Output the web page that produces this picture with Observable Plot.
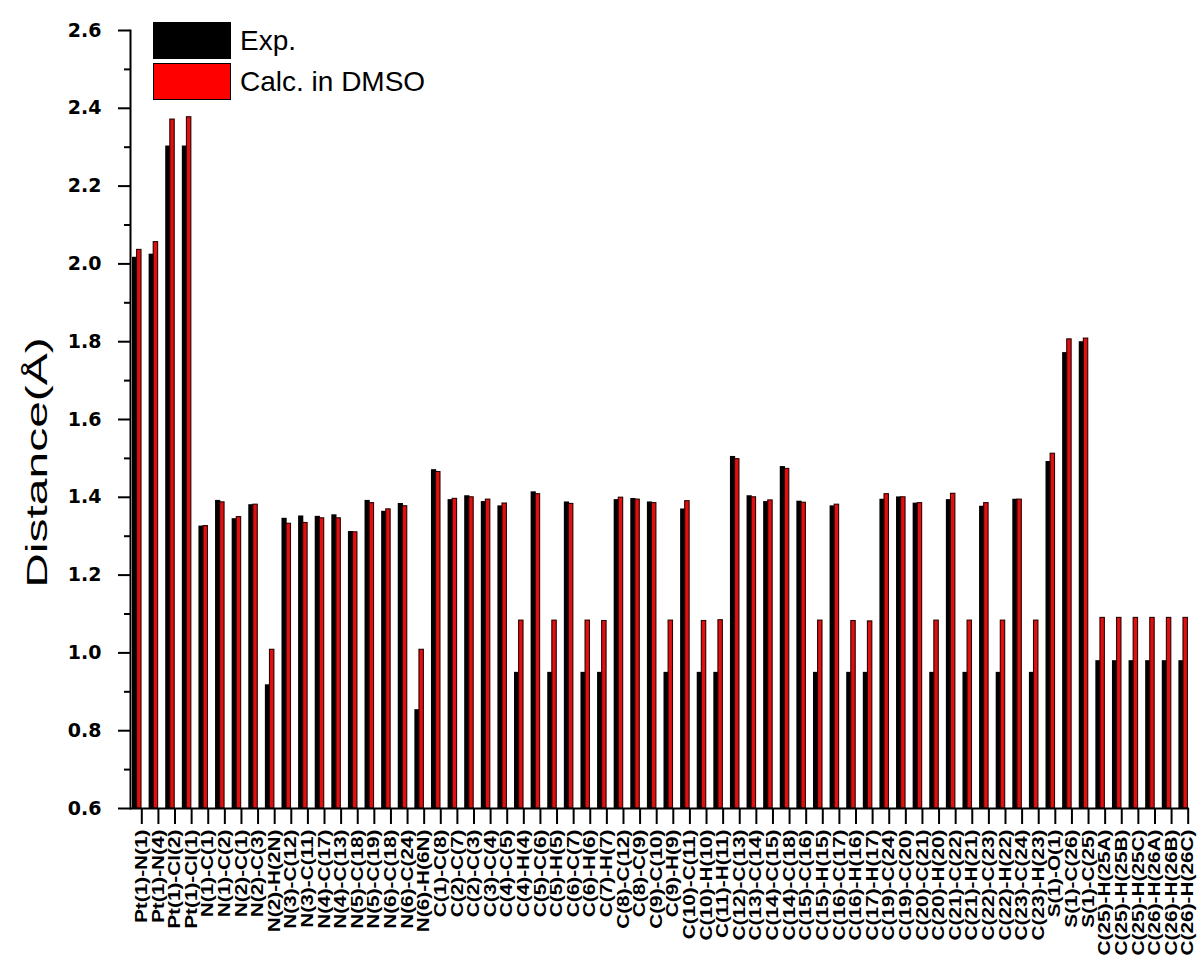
<!DOCTYPE html>
<html>
<head>
<meta charset="utf-8">
<script src="https://cdn.jsdelivr.net/npm/d3@7"></script>
<script src="https://cdn.jsdelivr.net/npm/@observablehq/plot@0.6"></script>
<style>
  body { margin: 0; background: #fff; }
  #chart { position: relative; width: 1198px; height: 956px; }
  .legend { position: absolute; left: 153px; top: 20px; font-family: "Liberation Sans", Arial, sans-serif; font-size: 28px; color: #000; }
  .legend .row { display: flex; align-items: center; height: 41px; }
  .legend .swatch { width: 78px; height: 37px; box-sizing: border-box; margin-right: 9px; }
</style>
</head>
<body>
<div id="chart"></div>
<script>
// Bond lengths of the Pt complex: X-ray values vs. DFT values computed in DMSO
const bonds = [
  "Pt(1)-N(1)", "Pt(1)-N(4)", "Pt(1)-Cl(2)", "Pt(1)-Cl(1)",
  "N(1)-C(1)", "N(1)-C(2)", "N(2)-C(1)", "N(2)-C(3)", "N(2)-H(2N)",
  "N(3)-C(12)", "N(3)-C(11)", "N(4)-C(17)", "N(4)-C(13)", "N(5)-C(18)",
  "N(5)-C(19)", "N(6)-C(18)", "N(6)-C(24)", "N(6)-H(6N)",
  "C(1)-C(8)", "C(2)-C(7)", "C(2)-C(3)", "C(3)-C(4)", "C(4)-C(5)",
  "C(4)-H(4)", "C(5)-C(6)", "C(5)-H(5)", "C(6)-C(7)", "C(6)-H(6)",
  "C(7)-H(7)", "C(8)-C(12)", "C(8)-C(9)", "C(9)-C(10)", "C(9)-H(9)",
  "C(10)-C(11)", "C(10)-H(10)", "C(11)-H(11)", "C(12)-C(13)", "C(13)-C(14)",
  "C(14)-C(15)", "C(14)-C(18)", "C(15)-C(16)", "C(15)-H(15)", "C(16)-C(17)",
  "C(16)-H(16)", "C(17)-H(17)", "C(19)-C(24)", "C(19)-C(20)", "C(20)-C(21)",
  "C(20)-H(20)", "C(21)-C(22)", "C(21)-H(21)", "C(22)-C(23)", "C(22)-H(22)",
  "C(23)-C(24)", "C(23)-H(23)", "S(1)-O(1)", "S(1)-C(26)", "S(1)-C(25)",
  "C(25)-H(25A)", "C(25)-H(25B)", "C(25)-H(25C)", "C(26)-H(26A)", "C(26)-H(26B)", "C(26)-H(26C)"
];

const expValues = [
  2.017, 2.025, 2.303, 2.303,
  1.326, 1.392, 1.345, 1.381, 0.918,
  1.346, 1.352, 1.351, 1.355, 1.312,
  1.392, 1.364, 1.384, 0.854,
  1.471, 1.394, 1.404, 1.389, 1.378,
  0.950, 1.414, 0.950, 1.388, 0.950,
  0.950, 1.394, 1.397, 1.388, 0.950,
  1.370, 0.950, 0.950, 1.505, 1.404,
  1.389, 1.479, 1.390, 0.950, 1.378,
  0.950, 0.950, 1.395, 1.401, 1.385,
  0.950, 1.394, 0.950, 1.377, 0.950,
  1.395, 0.950, 1.492, 1.772, 1.800,
  0.980, 0.980, 0.980, 0.980, 0.980, 0.980
];

const calcValues = [
  2.036, 2.056, 2.371, 2.377,
  1.326, 1.387, 1.349, 1.381, 1.008,
  1.332, 1.334, 1.346, 1.346, 1.310,
  1.385, 1.369, 1.377, 1.008,
  1.465, 1.396, 1.400, 1.394, 1.384,
  1.083, 1.408, 1.083, 1.383, 1.083,
  1.082, 1.399, 1.394, 1.385, 1.083,
  1.390, 1.082, 1.084, 1.498, 1.400,
  1.392, 1.473, 1.386, 1.083, 1.381,
  1.082, 1.081, 1.408, 1.400, 1.385,
  1.083, 1.409, 1.083, 1.385, 1.083,
  1.394, 1.083, 1.512, 1.806, 1.808,
  1.090, 1.090, 1.090, 1.090, 1.090, 1.090
];

const seriesNames = ["Exp.", "Calc. in DMSO"];
const seriesColors = ["#000000", "#e01010"];
const yMajorTicks = [0.6, 0.8, 1.0, 1.2, 1.4, 1.6, 1.8, 2.0, 2.2, 2.4, 2.6];
const yMinorTicks = [0.7, 0.9, 1.1, 1.3, 1.5, 1.7, 1.9, 2.1, 2.3, 2.5];
const yDomain = [0.6, 2.6];
const yLabel = "Distance(Å)";

const expRows = bonds.map((bond, i) => ({bond, series: seriesNames[0], value: expValues[i]}));
const calcRows = bonds.map((bond, i) => ({bond, series: seriesNames[1], value: calcValues[i]}));

const font = "'Liberation Sans', Arial, Helvetica, sans-serif";

const chart = Plot.plot({
  width: 1198,
  height: 956,
  marginTop: 30,
  marginBottom: 148,
  marginLeft: 130,
  marginRight: 9,
  style: {fontFamily: font, background: "#fff", color: "#000"},
  x: {type: "band", domain: bonds, range: [133, 1196], padding: 0},
  y: {domain: yDomain},
  marks: [
    Plot.barY(expRows, {x: "bond", y1: yDomain[0], y2: "value", fill: seriesColors[0], dx: -1, insetRight: 11.4}),
    Plot.barY(calcRows, {x: "bond", y1: yDomain[0], y2: "value", fill: seriesColors[1], stroke: "#2a0000", strokeWidth: 1.1, insetLeft: 3.6, insetRight: 8.6}),
    Plot.ruleY([yDomain[0]], {strokeWidth: 2}),
    Plot.frame({anchor: "left", strokeWidth: 2}),
    Plot.axisY({ticks: yMajorTicks, tickFormat: d3.format(".1f"), tickSize: 12, tickPadding: 17, strokeWidth: 2, fontSize: 19, fontWeight: "bold", fontFamily: "'DejaVu Sans', sans-serif", label: null}),
    Plot.axisY({ticks: yMinorTicks, tickFormat: () => "", tickSize: 6, strokeWidth: 2, label: null}),
    Plot.axisX({tickSize: 16, tickRotate: -90, tickPadding: 5, strokeWidth: 2, fontSize: 16, fontWeight: "bold", label: null}),
    Plot.text([yLabel], {text: d => d, frameAnchor: "left", textAnchor: "middle", rotate: -90, dx: -93, dy: 43, fontSize: 30})
  ]
});

// Rotated texts are drawn elongated along their baseline
d3.select(chart).selectAll('g[aria-label="x-axis tick label"] text')
  .attr("transform", function() { return this.getAttribute("transform") + " scale(1.3,1)"; });
d3.select(chart).selectAll('g[aria-label="text"] text')
  .attr("transform", function() { return this.getAttribute("transform") + " scale(1.6,1)"; });

const container = document.getElementById("chart");
container.appendChild(chart);

// Legend placed in the upper-left corner of the plot area
const legend = document.createElement("div");
legend.className = "legend";
seriesNames.forEach((name, i) => {
  const row = document.createElement("div");
  row.className = "row";
  const sw = document.createElement("div");
  sw.className = "swatch";
  sw.style.background = i === 0 ? seriesColors[0] : "#ff0000";
  sw.style.border = "1.5px solid #000";
  const label = document.createElement("span");
  label.textContent = name;
  row.appendChild(sw);
  row.appendChild(label);
  legend.appendChild(row);
});
container.appendChild(legend);
</script>
</body>
</html>
